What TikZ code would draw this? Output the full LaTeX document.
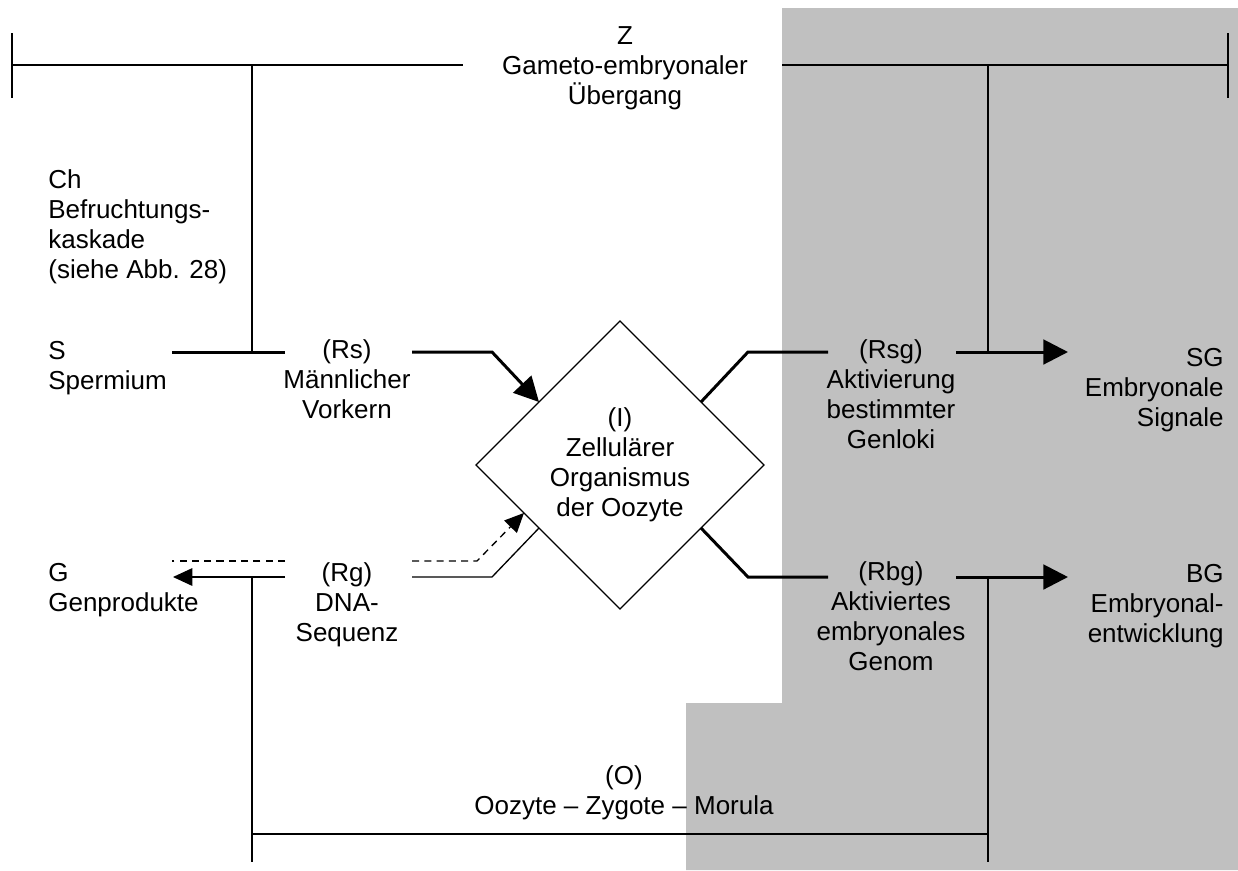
\documentclass[tikz,border=0pt]{standalone}
\usepackage{fontspec}
\setmainfont{Liberation Sans}
\usetikzlibrary{positioning,arrows.meta,shapes.geometric,calc}
\definecolor{greyzone}{HTML}{C0C0C0}

\begin{document}
\begin{tikzpicture}[x=0.02cm, y=-0.02cm, font=\fontsize{14.8pt}{17pt}\selectfont,
    bar/.style={line width=0.75pt},
    heavy/.style={line width=1.7pt},
    dashline/.style={line width=0.75pt, dash pattern=on 4pt off 3pt},
    bigtip/.style={-{Triangle[length=14pt,width=14pt]}},
    smalltip/.style={-{Triangle[length=11pt,width=10pt]}},
    lbl/.style={inner sep=0pt, align=center, anchor=base},
    lbll/.style={inner sep=0pt, align=left, anchor=base west},
    lblr/.style={inner sep=0pt, align=right, anchor=base east},
    org/.style={diamond, draw, bar, inner sep=0pt, outer sep=0pt,
      minimum width=5.76cm, minimum height=5.76cm, align=center}]
  \useasboundingbox (0,0) rectangle (1238,870);
  % shaded embryonic side
  \fill[greyzone] (782,8) -- (1238,8) -- (1238,870) -- (686,870) -- (686,703) -- (782,703) -- cycle;

  % labels (placed by the baseline of their last line)
  \node[lbl] (Z) at (625,104) {Z\\Gameto-embryonaler\\Übergang};
  \node[lbll] (Ch) at (48,278) {Ch\\Befruchtungs-\\kaskade\\(siehe Abb. 28)};
  \node[lbll] (S) at (48,389) {S\\Spermium};
  \node[lbl] (Rs) at (347,418) {(Rs)\\Männlicher\\Vorkern};
  \node[org] (I) at (620,465) {(I)\\Zellulärer\\Organismus\\der Oozyte};
  \node[lbl] (Rsg) at (891,448) {(Rsg)\\Aktivierung\\bestimmter\\Genloki};
  \node[lblr] (SG) at (1224,426) {SG\\Embryonale\\Signale};
  \node[lbll] (G) at (48,611) {G\\Genprodukte};
  \node[lbl] (Rg) at (347,641) {(Rg)\\DNA-\\Sequenz};
  \node[lbl] (Rbg) at (891,670) {(Rbg)\\Aktiviertes\\embryonales\\Genom};
  \node[lblr] (BG) at (1224,642) {BG\\Embryonal-\\entwicklung};
  \node[lbl] (O) at (624,814) {(O)\\Oozyte -- Zygote -- Morula};

  % line ends
  \coordinate (zl) at (12,65);
  \coordinate (zr) at (1228,65);
  \coordinate (chs) at (252,352);
  \coordinate (sgs) at (988,352);
  \coordinate (og) at (252,577);
  \coordinate (obg) at (988,577);
  \coordinate (ol) at (252,834);
  \coordinate (or) at (988,834);

  % top bar
  \draw[bar] (zl) -- (463,65);
  \draw[bar] (782,65) -- (zr);
  \draw[bar] ($(zl)+(0,-32)$) -- ($(zl)+(0,33)$);
  \draw[bar] ($(zr)+(0,-32)$) -- ($(zr)+(0,33)$);
  \draw[bar] (252,65) -- (chs);
  \draw[bar] (988,65) -- (sgs);

  % bottom bar
  \draw[bar] (og) -- (252,862);
  \draw[bar] (obg) -- (988,862);
  \draw[bar] (ol) -- (or);

  % sperm side
  \draw[heavy] (172,352) -- (285,352);
  \draw[heavy, bigtip] (412,352) -- (492,352) -- ($(I.west)!0.4375!(I.north)$);

  % embryonic side
  \draw[heavy] ($(I.east)!0.4375!(I.north)$) -- (748,352) -- (828,352);
  \draw[heavy, bigtip] (956,352) -- (1068,352);
  \draw[heavy] ($(I.east)!0.4375!(I.south)$) -- (748,577) -- (828,577);
  \draw[heavy, bigtip] (956,577) -- (1068,577);

  % gene side
  \draw[bar, smalltip] (285,577) -- (173,577);
  \draw[dashline] (285,561) -- (172,561);
  \draw[bar] ($(I.west)!0.4375!(I.south)$) -- (492,577) -- (412,577);
  \draw[dashline, smalltip] (412,561) -- (477,561) -- ($(I.west)!0.333!(I.south)$);
\end{tikzpicture}
\end{document}
